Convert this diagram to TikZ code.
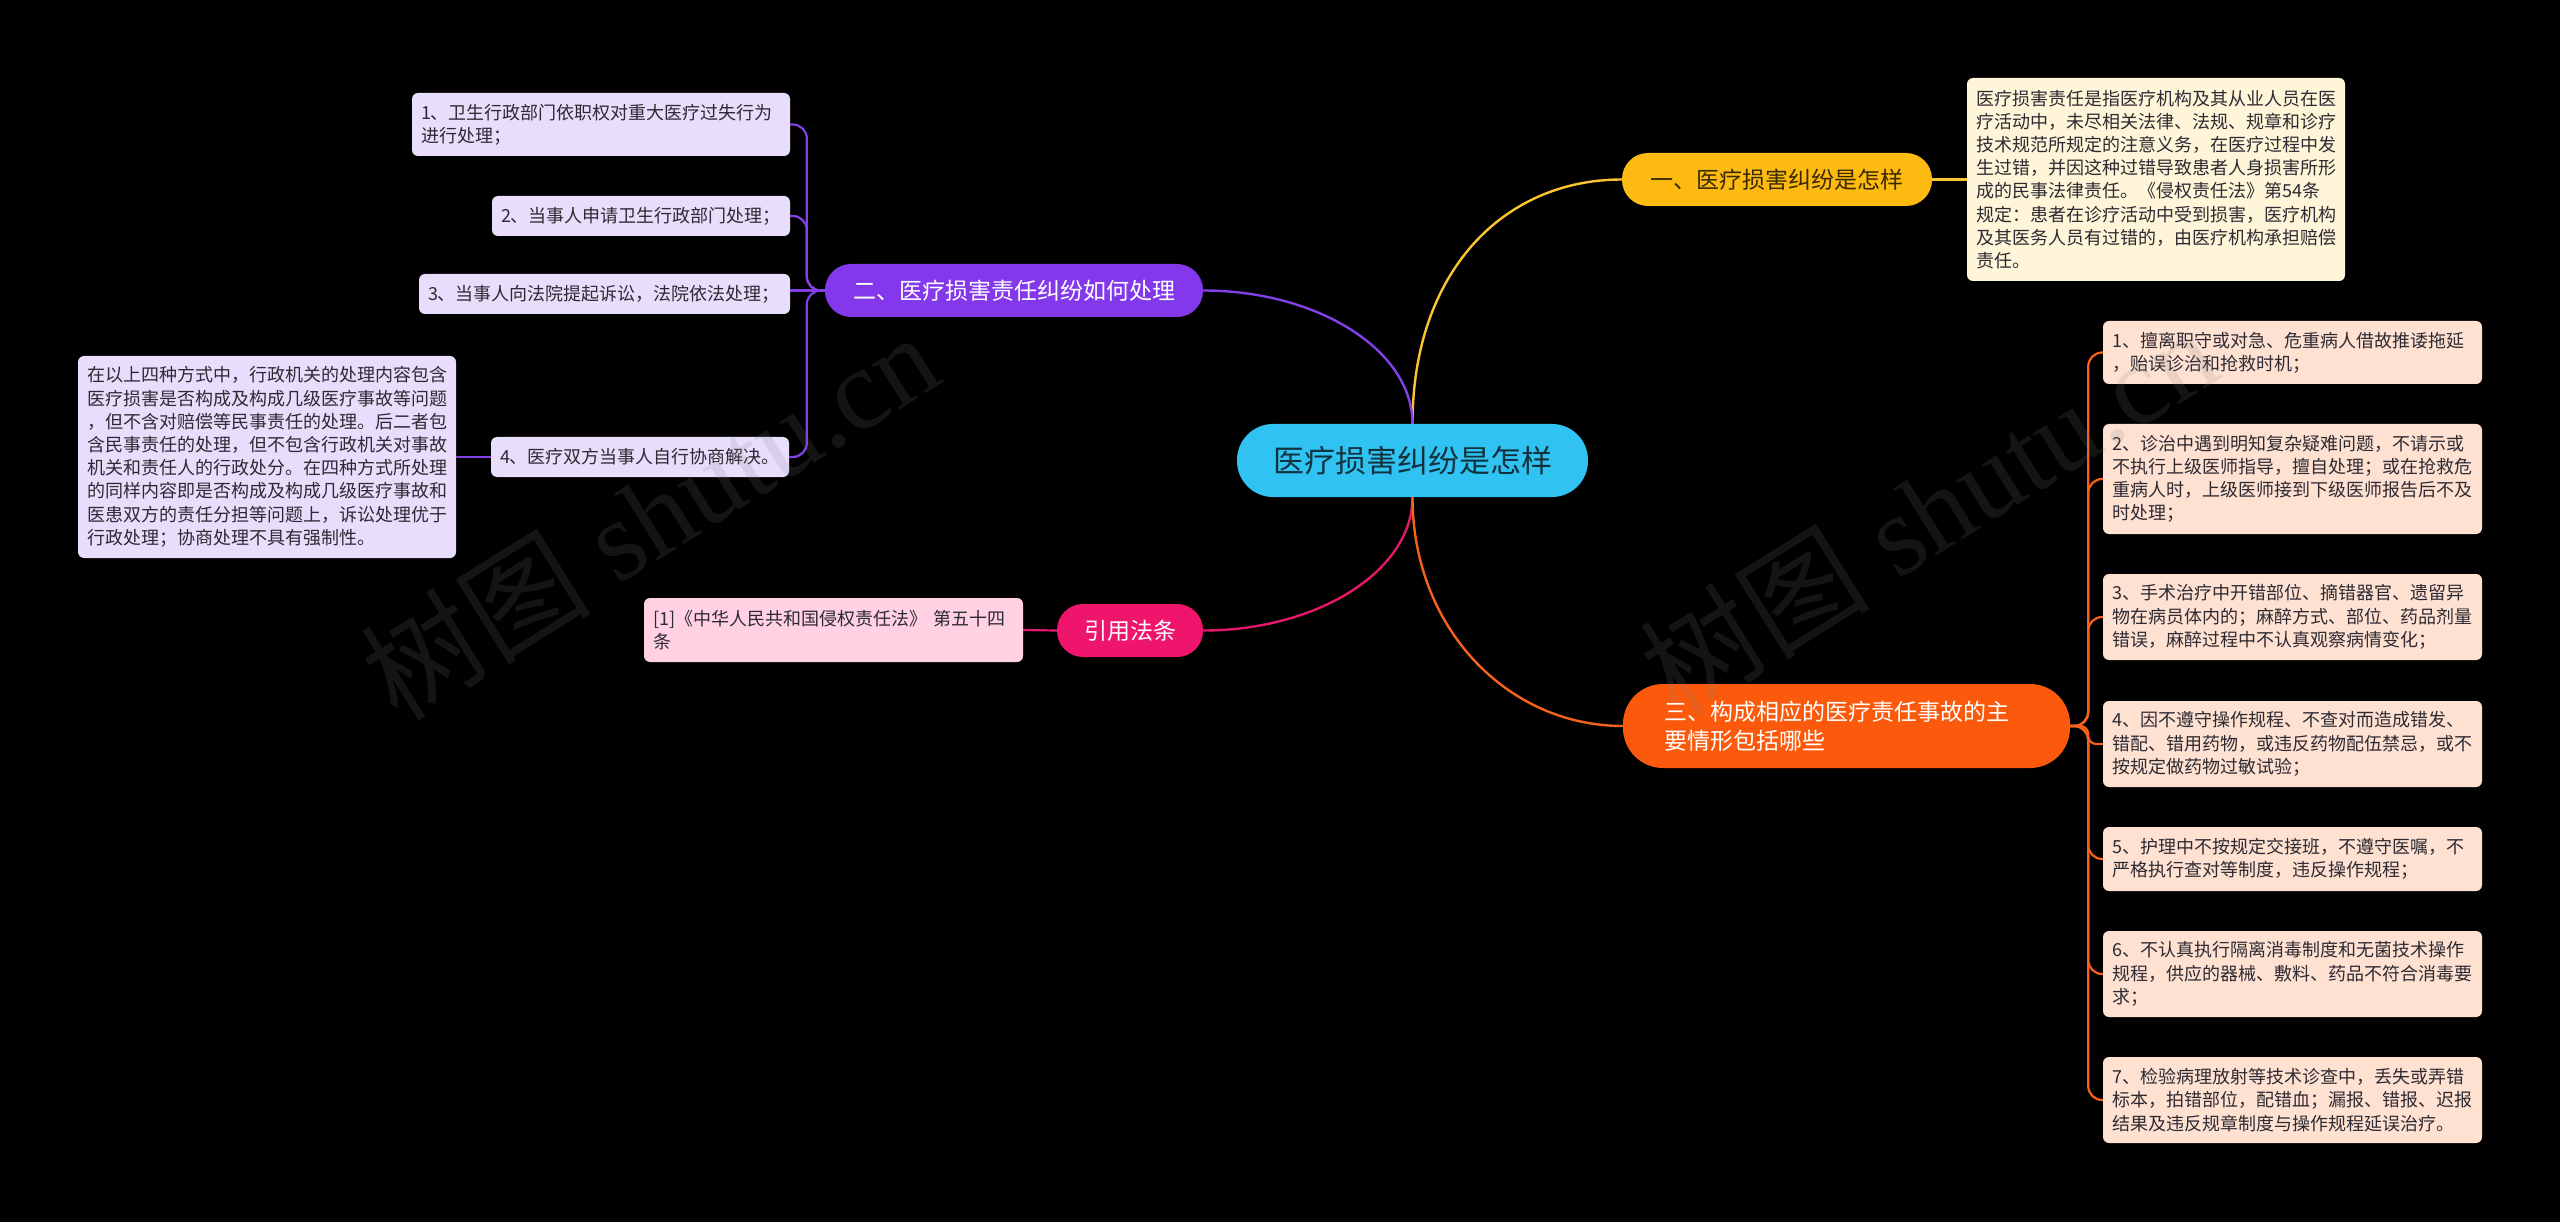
\documentclass[tikz,border=0pt]{standalone}
\usepackage{fontspec}
\setmainfont{Noto Sans CJK SC}
\newfontfamily\wmserif{Liberation Serif}
\definecolor{rootfill}{HTML}{30C3F1}
\definecolor{roottext}{HTML}{13323F}
\definecolor{yelfill}{HTML}{FDBB12}
\definecolor{yeltext}{HTML}{3A2A00}
\definecolor{yelline}{HTML}{FBC531}
\definecolor{purfill}{HTML}{8338EC}
\definecolor{purline}{HTML}{8240E6}
\definecolor{pinkfill}{HTML}{EF146C}
\definecolor{pinkline}{HTML}{E4186B}
\definecolor{orafill}{HTML}{FB5A0C}
\definecolor{oraline}{HTML}{F5621B}
\definecolor{pleaf}{HTML}{E8DDFB}
\definecolor{yleaf}{HTML}{FFF5D8}
\definecolor{kleaf}{HTML}{FFD1E3}
\definecolor{oleaf}{HTML}{FEE1D1}
\definecolor{leaftext}{HTML}{2E2A33}
\begin{document}
\begin{tikzpicture}[x=1pt,y=-1pt,
  mainnode/.style={inner sep=0pt, align=center, font=\fontsize{23}{28.7}\selectfont},
  leaf/.style={rounded corners=6pt, inner xsep=9pt, inner ysep=0pt, align=left,
    text=leaftext, font=\fontsize{18}{23.2}\selectfont},
  branch/.style={line width=2.4pt},
  twig/.style={line width=2.2pt},
  wm/.style={text=gray, text opacity=0.16, font=\fontsize{115}{115}\selectfont, inner sep=0pt}
]
\path[use as bounding box, fill=black] (0,0) rectangle (2560,1222);

% root
\node[mainnode, fill=rootfill, text=roottext, rounded corners=36pt,
  minimum width=351pt, minimum height=73pt, font=\fontsize{31}{36}\selectfont]
  (root) at (1412.5,460.5) {医疗损害纠纷是怎样};

% branch nodes
\node[mainnode, fill=yelfill, text=yeltext, rounded corners=26pt,
  minimum width=310pt, minimum height=53pt] (yel) at (1777,179.5) {一、医疗损害纠纷是怎样};
\node[mainnode, fill=purfill, text=white, rounded corners=26pt,
  minimum width=378pt, minimum height=53pt] (pur) at (1014,290.5) {二、医疗损害责任纠纷如何处理};
\node[mainnode, fill=pinkfill, text=white, rounded corners=26pt,
  minimum width=146pt, minimum height=53pt] (pnk) at (1130,630.5) {引用法条};
\node[mainnode, fill=orafill, text=white, rounded corners=40pt, align=left, text width=365pt,
  minimum width=447pt, minimum height=84pt] (ora) at (1846.5,726) {三、构成相应的医疗责任事故的主\\要情形包括哪些};

% yellow leaf
\node[leaf, fill=yleaf, text width=360pt, minimum height=203pt] (y1) at (2156,179.5)
 {医疗损害责任是指医疗机构及其从业人员在医\\疗活动中，未尽相关法律、法规、规章和诊疗\\技术规范所规定的注意义务，在医疗过程中发\\生过错，并因这种过错导致患者人身损害所形\\成的民事法律责任。《侵权责任法》第54条\\规定：患者在诊疗活动中受到损害，医疗机构\\及其医务人员有过错的，由医疗机构承担赔偿\\责任。};

% purple leaves
\node[leaf, fill=pleaf, text width=360pt, minimum height=63pt] (p1) at (601,124.5)
 {1、卫生行政部门依职权对重大医疗过失行为\\进行处理；};
\node[leaf, fill=pleaf, text width=280pt, minimum height=40pt] (p2) at (641,216)
 {2、当事人申请卫生行政部门处理；};
\node[leaf, fill=pleaf, text width=353pt, minimum height=40pt] (p3) at (604.5,294)
 {3、当事人向法院提起诉讼，法院依法处理；};
\node[leaf, fill=pleaf, text width=280pt, minimum height=40pt] (p4) at (640,457)
 {4、医疗双方当事人自行协商解决。};
\node[leaf, fill=pleaf, text width=360pt, minimum height=202pt] (p5) at (267,457)
 {在以上四种方式中，行政机关的处理内容包含\\医疗损害是否构成及构成几级医疗事故等问题\\，但不含对赔偿等民事责任的处理。后二者包\\含民事责任的处理，但不包含行政机关对事故\\机关和责任人的行政处分。在四种方式所处理\\的同样内容即是否构成及构成几级医疗事故和\\医患双方的责任分担等问题上，诉讼处理优于\\行政处理；协商处理不具有强制性。};

% pink leaf
\node[leaf, fill=kleaf, text width=361pt, minimum height=64pt] (k1) at (833.5,630)
 {[1]《中华人民共和国侵权责任法》 第五十四\\条};

% orange leaves
\node[leaf, fill=oleaf, text width=361pt, minimum height=63pt] (o1) at (2292.5,352.5)
 {1、擅离职守或对急、危重病人借故推诿拖延\\，贻误诊治和抢救时机；};
\node[leaf, fill=oleaf, text width=361pt, minimum height=110pt] (o2) at (2292.5,479)
 {2、诊治中遇到明知复杂疑难问题，不请示或\\不执行上级医师指导，擅自处理；或在抢救危\\重病人时，上级医师接到下级医师报告后不及\\时处理；};
\node[leaf, fill=oleaf, text width=361pt, minimum height=86pt] (o3) at (2292.5,617)
 {3、手术治疗中开错部位、摘错器官、遗留异\\物在病员体内的；麻醉方式、部位、药品剂量\\错误，麻醉过程中不认真观察病情变化；};
\node[leaf, fill=oleaf, text width=361pt, minimum height=86pt] (o4) at (2292.5,744)
 {4、因不遵守操作规程、不查对而造成错发、\\错配、错用药物，或违反药物配伍禁忌，或不\\按规定做药物过敏试验；};
\node[leaf, fill=oleaf, text width=361pt, minimum height=64pt] (o5) at (2292.5,859)
 {5、护理中不按规定交接班，不遵守医嘱，不\\严格执行查对等制度，违反操作规程；};
\node[leaf, fill=oleaf, text width=361pt, minimum height=86pt] (o6) at (2292.5,974)
 {6、不认真执行隔离消毒制度和无菌技术操作\\规程，供应的器械、敷料、药品不符合消毒要\\求；};
\node[leaf, fill=oleaf, text width=361pt, minimum height=86pt] (o7) at (2292.5,1100)
 {7、检验病理放射等技术诊查中，丢失或弄错\\标本，拍错部位，配错血；漏报、错报、迟报\\结果及违反规章制度与操作规程延误治疗。};

% main branch curves
\draw[branch, yelline] (root.north) .. controls +(0,-150) and +(-120,0) .. (yel.west);
\draw[branch, purline] (root.north) .. controls +(0,-74) and +(114,0) .. (pur.east);
\draw[branch, pinkline] (root.south) .. controls +(0,74) and +(114,0) .. (pnk.east);
\draw[branch, oraline] (root.south) .. controls +(0,130) and +(-116,0) .. (ora.west);

% leaf connectors
\draw[twig, yelline] (yel.east) -- (y1.west);
\draw[twig, pinkline] (k1.east) -- (pnk.west);
\draw[twig, purline] (p5.east) -- (p4.west);
\draw[twig, purline] (pur.west) -- (p3.east |- pur.west);
\foreach \c in {p1,p2,p4}
  \draw[twig, purline, rounded corners=14pt] (pur.west) -- ++(-18,0) |- (\c.east);
\foreach \c in {o1,o2,o3,o5,o6,o7}
  \draw[twig, oraline, rounded corners=14pt] (ora.east) -- ++(18,0) |- (\c.west);
\draw[twig, oraline, rounded corners=8pt] (ora.east) -- ++(18,0) |- (o4.west);

% watermark
\node[wm, rotate=32] (wm1) at (649,515) {树图{\wmserif\ shutu.cn}};
\node[wm, rotate=32] (wm2) at (1928,510) {树图{\wmserif\ shutu.cn}};
\end{tikzpicture}
\end{document}
